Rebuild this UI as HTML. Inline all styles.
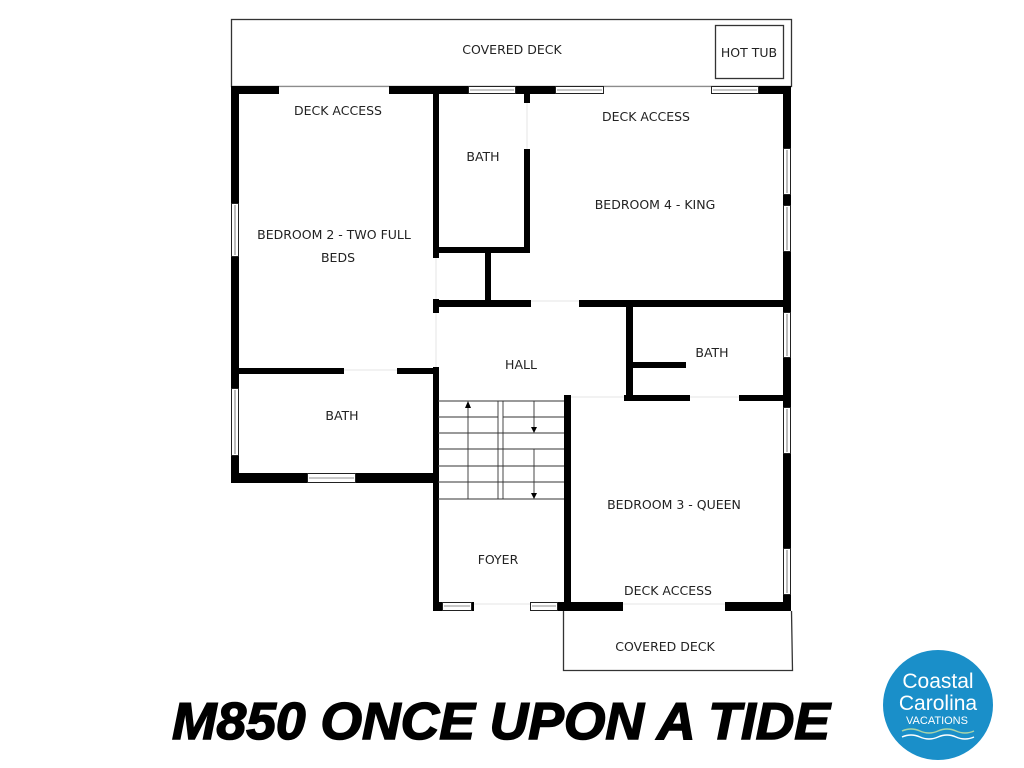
<!DOCTYPE html>
<html><head><meta charset="utf-8"><style>
html,body{margin:0;padding:0;background:#fff;width:1024px;height:768px;overflow:hidden}
svg{display:block}
text{font-family:"DejaVu Sans","Liberation Sans",sans-serif;font-size:12.5px;fill:#222}
</style></head><body>
<svg width="1024" height="768" viewBox="0 0 1024 768">
<g fill="none" stroke="#333" stroke-width="1.3">
<rect x="231.5" y="19.5" width="560" height="67"/>
<rect x="715.5" y="25.5" width="68" height="53"/>
<polyline points="563.5,611 563.5,670.5 792.5,670.5 791.5,611"/>
</g>
<g stroke="#e4e4e4" stroke-width="1">
<line x1="279" y1="87" x2="389" y2="87"/>
<line x1="604" y1="87" x2="711" y2="87"/>
<line x1="436" y1="258" x2="436" y2="299"/>
<line x1="527" y1="103" x2="527" y2="149"/>
<line x1="531" y1="301" x2="579" y2="301"/>
<line x1="436" y1="313" x2="436" y2="367"/>
<line x1="344" y1="370" x2="397" y2="370"/>
<line x1="571" y1="397" x2="624" y2="397"/>
<line x1="690" y1="397" x2="739" y2="397"/>
<line x1="623" y1="604" x2="725" y2="604"/>
<line x1="474" y1="604" x2="530" y2="604"/>
</g>
<g fill="#000">
<rect x="231" y="86" width="48" height="8"/>
<rect x="389" y="86" width="79" height="8"/>
<rect x="516" y="86" width="39" height="8"/>
<rect x="759" y="86" width="32" height="8"/>
<rect x="231" y="86" width="8" height="117"/>
<rect x="231" y="257" width="8" height="131"/>
<rect x="231" y="456" width="8" height="27"/>
<rect x="783" y="86" width="8" height="62"/>
<rect x="783" y="195" width="8" height="10"/>
<rect x="783" y="252" width="8" height="60"/>
<rect x="783" y="358" width="8" height="49"/>
<rect x="783" y="454" width="8" height="94"/>
<rect x="783" y="595" width="8" height="16"/>
<rect x="433" y="94" width="6" height="164"/>
<rect x="524" y="94" width="6" height="9"/>
<rect x="524" y="149" width="6" height="104"/>
<rect x="433" y="247" width="97" height="6"/>
<rect x="485" y="253" width="6" height="50"/>
<rect x="433" y="299" width="6" height="14"/>
<rect x="433" y="300" width="98" height="7"/>
<rect x="579" y="300" width="212" height="7"/>
<rect x="626" y="300" width="7" height="100"/>
<rect x="633" y="362" width="53" height="6"/>
<rect x="624" y="395" width="66" height="6"/>
<rect x="739" y="395" width="52" height="6"/>
<rect x="231" y="368" width="113" height="6"/>
<rect x="397" y="368" width="41" height="6"/>
<rect x="433" y="367" width="6" height="244"/>
<rect x="231" y="473" width="76" height="10"/>
<rect x="356" y="473" width="82" height="10"/>
<rect x="564" y="395" width="7" height="216"/>
<rect x="564" y="602" width="59" height="9"/>
<rect x="725" y="602" width="66" height="9"/>
<rect x="433" y="602" width="9" height="9"/>
<rect x="472" y="602" width="2" height="9"/>
<rect x="558" y="602" width="6" height="9"/>
</g>
<g fill="#fff" stroke="#222" stroke-width="1">
<rect x="468.5" y="86.5" width="47" height="7"/>
<rect x="555.5" y="86.5" width="48" height="7"/>
<rect x="711.5" y="86.5" width="47" height="7"/>
<rect x="231.5" y="203.5" width="7" height="53"/>
<rect x="231.5" y="388.5" width="7" height="67"/>
<rect x="783.5" y="148.5" width="7" height="46"/>
<rect x="783.5" y="205.5" width="7" height="46"/>
<rect x="783.5" y="312.5" width="7" height="45"/>
<rect x="783.5" y="407.5" width="7" height="46"/>
<rect x="783.5" y="548.5" width="7" height="46"/>
<rect x="307.5" y="473.5" width="48" height="9"/>
<rect x="442.5" y="602.5" width="29" height="8"/>
<rect x="530.5" y="602.5" width="27" height="8"/>
</g>
<g stroke="#222" stroke-width="0.6">
<line x1="470" y1="90" x2="514" y2="90"/><line x1="557" y1="90" x2="602" y2="90"/><line x1="713" y1="90" x2="757" y2="90"/>
<line x1="235" y1="205" x2="235" y2="255"/><line x1="235" y1="390" x2="235" y2="454"/>
<line x1="787" y1="150" x2="787" y2="193"/><line x1="787" y1="207" x2="787" y2="250"/><line x1="787" y1="314" x2="787" y2="356"/><line x1="787" y1="409" x2="787" y2="452"/><line x1="787" y1="550" x2="787" y2="593"/>
<line x1="309" y1="478" x2="354" y2="478"/><line x1="444" y1="606" x2="470" y2="606"/><line x1="532" y1="606" x2="556" y2="606"/>
</g>
<g stroke="#333" stroke-width="0.9" fill="none">
<line x1="438" y1="401" x2="564" y2="401"/>
<line x1="438" y1="417" x2="498" y2="417"/><line x1="503" y1="417" x2="564" y2="417"/>
<line x1="438" y1="433" x2="564" y2="433"/>
<line x1="438" y1="449" x2="564" y2="449"/>
<line x1="438" y1="466" x2="564" y2="466"/>
<line x1="438" y1="482" x2="564" y2="482"/>
<line x1="438" y1="499" x2="564" y2="499"/>
<line x1="468" y1="404" x2="468" y2="499"/>
<line x1="498" y1="401" x2="498" y2="499"/><line x1="503" y1="401" x2="503" y2="499"/>
<line x1="534" y1="401" x2="534" y2="427"/><line x1="534" y1="449" x2="534" y2="493"/>
</g>
<g fill="#000">
<polygon points="465,408 471,408 468,401"/>
<polygon points="531,427 537,427 534,433"/>
<polygon points="531,493 537,493 534,499"/>
</g>
<g text-anchor="middle">
<text x="512" y="54">COVERED DECK</text>
<text x="749" y="57">HOT TUB</text>
<text x="338" y="115">DECK ACCESS</text>
<text x="646" y="121">DECK ACCESS</text>
<text x="483" y="161">BATH</text>
<text x="655" y="209">BEDROOM 4 - KING</text>
<text x="334" y="239">BEDROOM 2 - TWO FULL</text>
<text x="338" y="262">BEDS</text>
<text x="521" y="369">HALL</text>
<text x="712" y="357">BATH</text>
<text x="342" y="420">BATH</text>
<text x="674" y="509">BEDROOM 3 - QUEEN</text>
<text x="498" y="564">FOYER</text>
<text x="668" y="595">DECK ACCESS</text>
<text x="665" y="651">COVERED DECK</text>
</g>
<text x="172" y="739" textLength="658" lengthAdjust="spacingAndGlyphs" style="font-family:'Liberation Sans',sans-serif;font-weight:bold;font-style:italic;font-size:52px;fill:#000;stroke:#000;stroke-width:1.5">M850 ONCE UPON A TIDE</text>
<circle cx="938" cy="705" r="55" fill="#1a8fc9"/>
<g text-anchor="middle">
<text x="938" y="688" style="font-size:21px;fill:#fff;font-family:'Liberation Sans',sans-serif">Coastal</text>
<text x="938" y="710" style="font-size:21px;fill:#fff;font-family:'Liberation Sans',sans-serif">Carolina</text>
<text x="937" y="724" style="font-size:11px;fill:#fff;font-family:'Liberation Sans',sans-serif">VACATIONS</text>
</g>
<path d="M902 731 q9 -4 18 0 t18 0 t18 0 t18 0" stroke="#a8d4a8" stroke-width="1.5" fill="none"/>
<path d="M902 737 q9 -4 18 0 t18 0 t18 0 t18 0" stroke="#fff" stroke-width="1.5" fill="none"/>
</svg>
</body></html>
